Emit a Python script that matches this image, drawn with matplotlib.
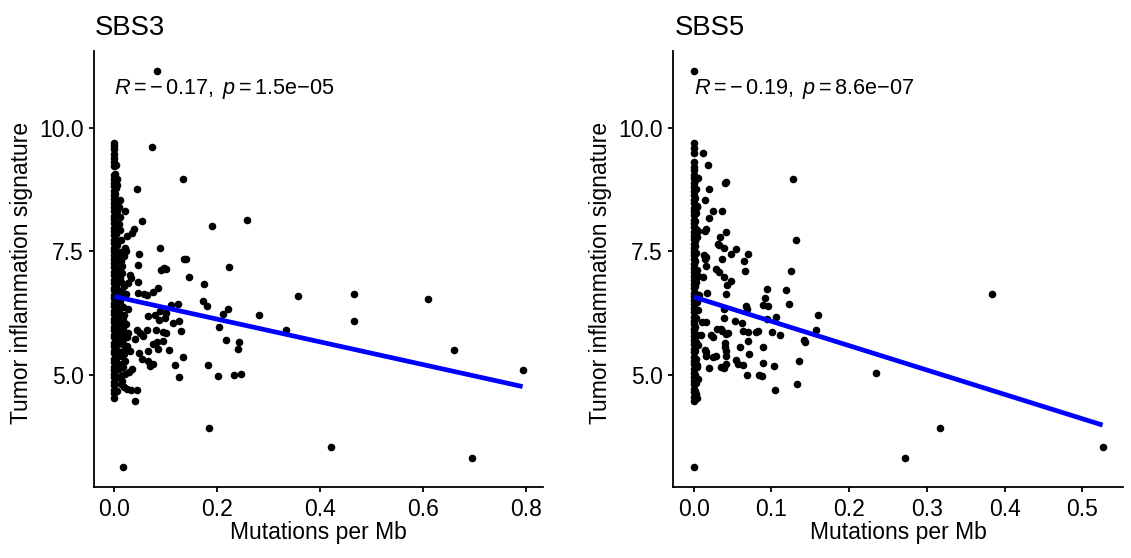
import numpy as np
import matplotlib
matplotlib.use("Agg")
import matplotlib.pyplot as plt

plt.rcParams['font.family'] = ['Liberation Sans', 'DejaVu Sans']
plt.rcParams['mathtext.fontset'] = 'custom'
plt.rcParams['mathtext.rm'] = 'Liberation Sans'
plt.rcParams['mathtext.it'] = 'Liberation Sans:italic'

# ---------------- data ----------------
titles = ["SBS3", "SBS5"]
x_label = "Mutations per Mb"
y_label = "Tumor inflammation signature"
annotations = [r"$R = -\,0.17,\ p = 1.5\mathrm{e}{-}05$",
               r"$R = -\,0.19,\ p = 8.6\mathrm{e}{-}07$"]
x_ticks_sbs3 = [0.0, 0.2, 0.4, 0.6, 0.8]
x_ticks_sbs5 = [0.0, 0.1, 0.2, 0.3, 0.4, 0.5]
y_ticks = [5.0, 7.5, 10.0]

# samples with zero mutations per Mb (x = 0)
sbs3_zero_y = [9.68, 9.63, 9.56, 9.47, 9.39, 9.30, 9.22, 9.04, 8.96, 8.87, 8.81,
               8.72, 8.63, 8.56, 8.47, 8.39, 8.32, 8.21, 8.14, 8.07, 7.97, 7.91,
               7.82, 7.72, 7.67, 7.57, 7.50, 7.41, 7.34, 7.25, 7.18, 7.08, 7.02,
               6.92, 6.86, 6.76, 6.71, 6.60, 6.54, 6.45, 6.38, 6.28, 6.22, 6.13,
               6.06, 5.96, 5.90, 5.80, 5.75, 5.64, 5.58, 5.48, 5.43, 5.32, 5.26,
               5.16, 5.10, 5.01, 4.94, 4.85, 4.79, 4.69, 4.63, 4.53]
# very low mutation burden samples (dense column next to zero)
sbs3_low_x = [0.002, 0.003, 0.004, 0.002, 0.005, 0.003, 0.006, 0.002, 0.004, 0.007,
              0.003, 0.005, 0.002, 0.006, 0.004, 0.003, 0.008, 0.002, 0.005, 0.004,
              0.003, 0.006, 0.002, 0.004, 0.009, 0.003, 0.005, 0.002, 0.007, 0.004,
              0.003, 0.006, 0.002, 0.005, 0.004, 0.011, 0.013, 0.015, 0.012, 0.018,
              0.014, 0.010, 0.016, 0.019, 0.012, 0.022, 0.015, 0.017, 0.011, 0.025,
              0.013, 0.020, 0.016, 0.028, 0.012, 0.018, 0.023, 0.014, 0.026, 0.010]
sbs3_low_y = [9.05, 8.92, 8.78, 8.66, 8.52, 8.44, 8.30, 8.18, 8.02, 7.95,
              7.84, 7.70, 7.60, 7.46, 7.38, 7.27, 7.14, 7.05, 6.96, 6.82,
              6.74, 6.63, 6.51, 6.42, 6.33, 6.25, 6.16, 6.01, 5.93, 5.84,
              5.70, 5.59, 5.52, 5.37, 5.22, 7.48, 7.30, 7.05, 6.88, 6.80,
              6.58, 6.45, 6.36, 6.20, 6.12, 6.03, 5.88, 5.72, 5.66, 5.58,
              5.38, 5.28, 5.15, 5.05, 4.98, 4.75, 6.62, 5.98, 6.33, 7.92]
sbs3_x = [0.082, 0.074, 0.134, 0.043, 0.005, 0.011, 0.021, 0.054, 0.190, 0.257,
          0.038, 0.035, 0.025, 0.010, 0.008, 0.020, 0.023, 0.018, 0.048, 0.089,
          0.045, 0.135, 0.140, 0.223, 0.090, 0.097, 0.100, 0.145, 0.174, 0.030,
          0.033, 0.046, 0.085, 0.027, 0.075, 0.063, 0.058, 0.045, 0.357, 0.466,
          0.610, 0.173, 0.179, 0.124, 0.109, 0.101, 0.088, 0.078, 0.066, 0.221,
          0.280, 0.211, 0.466, 0.125, 0.113, 0.099, 0.087, 0.203, 0.333, 0.130,
          0.100, 0.094, 0.081, 0.063, 0.043, 0.050, 0.027, 0.024, 0.040, 0.056,
          0.216, 0.243, 0.095, 0.082, 0.075, 0.659, 0.240, 0.106, 0.085, 0.065,
          0.047, 0.031, 0.021, 0.018, 0.134, 0.053, 0.066, 0.075, 0.069, 0.117,
          0.182, 0.034, 0.014, 0.793, 0.125, 0.201, 0.233, 0.246, 0.021, 0.014,
          0.024, 0.043, 0.040, 0.032, 0.184, 0.421, 0.694, 0.017,
          0.006, 0.009, 0.004, 0.011, 0.007, 0.012, 0.005, 0.010, 0.008, 0.013,
          0.006, 0.011, 0.004, 0.009, 0.007, 0.012, 0.005, 0.015, 0.016, 0.017,
          0.014, 0.016, 0.013, 0.008, 0.006, 0.004]
sbs3_y = [11.14, 9.61, 8.96, 8.76, 8.84, 8.54, 8.32, 8.11, 8.01, 8.12,
          7.94, 7.87, 7.81, 8.18, 8.05, 7.56, 7.50, 7.39, 7.43, 7.57,
          7.22, 7.33, 7.33, 7.18, 7.12, 7.15, 7.13, 6.97, 6.84, 7.02,
          6.96, 6.88, 6.76, 6.86, 6.67, 6.60, 6.62, 6.66, 6.59, 6.64,
          6.53, 6.49, 6.39, 6.42, 6.40, 6.25, 6.28, 6.20, 6.18, 6.32,
          6.21, 6.22, 6.08, 6.08, 6.05, 6.15, 6.11, 5.97, 5.90, 5.88,
          5.85, 5.87, 5.91, 5.91, 5.91, 5.85, 5.85, 5.75, 5.71, 5.78,
          5.70, 5.66, 5.68, 5.65, 5.61, 5.49, 5.51, 5.50, 5.51, 5.48,
          5.44, 5.48, 5.54, 5.41, 5.36, 5.31, 5.28, 5.21, 5.17, 5.19,
          5.19, 5.11, 5.21, 5.09, 4.96, 4.97, 5.00, 5.02, 5.01, 4.87,
          4.70, 4.69, 4.47, 4.68, 3.91, 3.54, 3.32, 3.13,
          7.62, 7.35, 7.10, 6.95, 6.72, 6.55, 6.40, 6.22, 6.02, 5.80,
          5.62, 5.45, 5.30, 5.12, 4.95, 4.80, 4.66, 6.68, 6.10, 5.95,
          7.20, 5.62, 7.72, 8.40, 8.95, 9.25]

sbs5_zero_y = [11.14, 9.68, 9.58, 9.48, 9.31, 9.21, 9.14, 9.04, 8.97, 8.88, 8.80,
               8.71, 8.64, 8.54, 8.47, 8.38, 8.31, 8.23, 8.13, 8.06, 7.98, 7.89,
               7.81, 7.74, 7.64, 7.57, 7.48, 7.41, 7.33, 7.24, 7.16, 7.08, 6.99,
               6.92, 6.83, 6.75, 6.66, 6.59, 6.51, 6.42, 6.34, 6.26, 6.17, 6.09,
               6.02, 5.93, 5.86, 5.77, 5.69, 5.61, 5.52, 5.45, 5.36, 5.28, 5.21,
               5.12, 5.04, 4.96, 4.87, 4.80, 4.71, 4.64, 4.55, 4.47, 3.13]
sbs5_low_x = [0.002, 0.003, 0.002, 0.004, 0.003, 0.002, 0.003, 0.004, 0.002, 0.003,
              0.002, 0.004, 0.003, 0.002, 0.003, 0.004, 0.002, 0.003, 0.002, 0.004,
              0.003, 0.002, 0.003, 0.004, 0.002, 0.003, 0.002, 0.004, 0.003, 0.002]
sbs5_low_y = [8.93, 8.75, 8.58, 8.42, 8.27, 8.10, 7.94, 7.78, 7.61, 7.45,
              7.29, 7.12, 6.96, 6.79, 6.63, 6.47, 6.30, 6.14, 5.97, 5.81,
              5.65, 5.48, 5.32, 5.16, 4.99, 4.83, 4.67, 4.52, 6.88, 7.70]
sbs5_x = [0.012, 0.018, 0.005, 0.128, 0.042, 0.040, 0.019, 0.015, 0.036, 0.025,
          0.020, 0.016, 0.015, 0.041, 0.034, 0.132, 0.031, 0.033, 0.039, 0.054,
          0.048, 0.070, 0.013, 0.016, 0.015, 0.037, 0.065, 0.016, 0.029, 0.032,
          0.066, 0.125, 0.039, 0.012, 0.048, 0.043, 0.094, 0.119, 0.384, 0.041,
          0.017, 0.092, 0.089, 0.096, 0.122, 0.067, 0.068, 0.039, 0.160, 0.106,
          0.094, 0.039, 0.053, 0.062, 0.010, 0.016, 0.157, 0.063, 0.070, 0.083,
          0.080, 0.101, 0.111, 0.037, 0.041, 0.044, 0.030, 0.035, 0.009, 0.022,
          0.025, 0.142, 0.143, 0.070, 0.060, 0.089, 0.040, 0.040, 0.042, 0.042,
          0.014, 0.016, 0.016, 0.071, 0.029, 0.025, 0.055, 0.057, 0.135, 0.089,
          0.064, 0.103, 0.041, 0.039, 0.020, 0.035, 0.069, 0.084, 0.088, 0.235,
          0.133, 0.104, 0.317, 0.272, 0.526,
          0.004, 0.006, 0.005, 0.007, 0.005, 0.006, 0.004, 0.006, 0.003]
sbs5_y = [9.49, 9.25, 8.98, 8.96, 8.89, 8.87, 8.76, 8.53, 8.31, 8.30,
          8.17, 7.94, 7.90, 7.89, 7.79, 7.72, 7.64, 7.62, 7.56, 7.54,
          7.44, 7.43, 7.42, 7.38, 7.33, 7.33, 7.30, 7.20, 7.13, 7.08,
          7.10, 7.10, 6.97, 6.97, 6.89, 6.82, 6.74, 6.71, 6.64, 6.63,
          6.66, 6.55, 6.40, 6.39, 6.42, 6.38, 6.32, 6.32, 6.20, 6.17,
          6.12, 6.15, 6.08, 6.04, 6.07, 6.07, 5.90, 5.89, 5.87, 5.89,
          5.86, 5.87, 5.79, 5.88, 5.82, 5.84, 5.92, 5.92, 5.80, 5.81,
          5.76, 5.69, 5.65, 5.67, 5.56, 5.55, 5.63, 5.56, 5.48, 5.38,
          5.49, 5.45, 5.38, 5.42, 5.38, 5.35, 5.29, 5.22, 5.27, 5.24,
          5.19, 5.18, 5.22, 5.13, 5.14, 5.15, 4.99, 5.00, 4.97, 5.03,
          4.80, 4.68, 3.91, 3.32, 3.54,
          8.40, 7.90, 7.00, 6.60, 6.30, 5.60, 5.20, 4.90, 4.60]

# linear fit (intercept, slope)
sbs3_fit = (6.58, -2.30)
sbs5_fit = (6.57, -4.93)

# ---------------- figure ----------------
W, H = 1131, 558
fig = plt.figure(figsize=(W / 100, H / 100), dpi=100)

def fx(px):
    return px / W

def fy(py):
    return 1 - py / H

ax_top, ax_bot = 51.4, 486.7
panels = [
    dict(left=94.0, right=543.0, zy=sbs3_zero_y, lx=sbs3_low_x, ly=sbs3_low_y,
         x=sbs3_x, y=sbs3_y, fit=sbs3_fit, ticks=x_ticks_sbs3),
    dict(left=673.3, right=1123.0, zy=sbs5_zero_y, lx=sbs5_low_x, ly=sbs5_low_y,
         x=sbs5_x, y=sbs5_y, fit=sbs5_fit, ticks=x_ticks_sbs5),
]

for i, p in enumerate(panels):
    assert len(p['lx']) == len(p['ly']) and len(p['x']) == len(p['y'])
    ax = fig.add_axes([fx(p['left']), fy(ax_bot), (p['right'] - p['left']) / W,
                       (ax_bot - ax_top) / H])
    xs = np.array([0.0] * len(p['zy']) + list(p['lx']) + list(p['x']))
    ys = np.array(list(p['zy']) + list(p['ly']) + list(p['y']))
    ax.scatter(xs, ys, s=30, color='black', linewidths=0, zorder=2)
    b0, b1 = p['fit']
    xl = np.array([xs.min(), xs.max()])
    ax.plot(xl, b0 + b1 * xl, color='#0000FF', lw=3.4, zorder=3,
            solid_capstyle='butt')
    xpad = 0.05 * (xs.max() - xs.min())
    ypad = 0.05 * (ys.max() - ys.min())
    ax.set_xlim(xs.min() - xpad, xs.max() + xpad)
    ax.set_ylim(ys.min() - ypad, ys.max() + ypad)
    ax.set_xticks(p['ticks'])
    ax.set_xticklabels([f"{t:.1f}" for t in p['ticks']])
    ax.set_yticks(y_ticks)
    ax.set_yticklabels([f"{t:.1f}" for t in y_ticks])
    for side in ['top', 'right']:
        ax.spines[side].set_visible(False)
    for side in ['left', 'bottom']:
        ax.spines[side].set_linewidth(1.3)
    ax.tick_params(axis='both', length=3.8, width=1.3, labelsize=16.5,
                   colors='black')
    ax.tick_params(axis='x', pad=4.2)
    ax.tick_params(axis='y', pad=3.6)
    ax.set_xlabel(x_label, fontsize=16.5)
    ax.set_ylabel(y_label, fontsize=16.5)
    ax.xaxis.set_label_coords(0.5, -0.079)
    ax.yaxis.set_label_coords(-0.136, 0.49)
    ax.text(0.0, 10.68, annotations[i], fontsize=15.6, ha='left',
            va='baseline')
    fig.text(fx(p['left'] + 1), fy(35), titles[i], fontsize=19.8,
             ha='left', va='baseline')

fig.savefig("out.png", dpi=100)
